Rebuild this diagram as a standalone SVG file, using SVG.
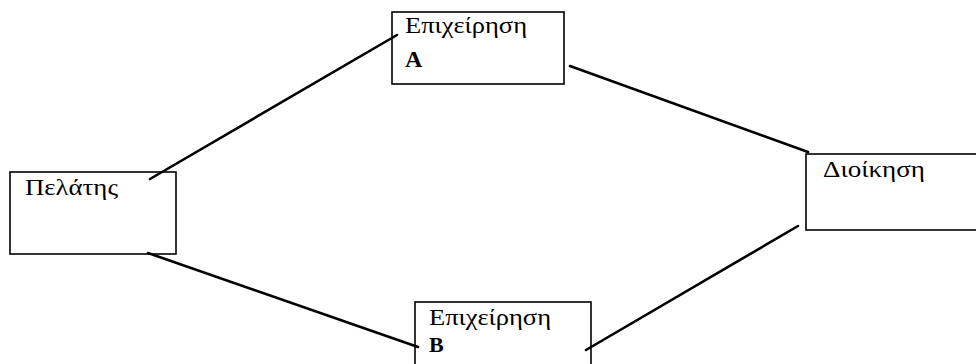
<svg xmlns="http://www.w3.org/2000/svg" width="976" height="364" viewBox="0 0 976 364">
<style>
.box{fill:#fff;stroke:#000;stroke-width:1.6}
.t{font-family:"Liberation Serif","DejaVu Serif",serif;font-size:23px;fill:#000}
.l{font-family:"Liberation Serif","DejaVu Serif",serif;font-weight:bold;fill:#000}
.c{stroke:#000;stroke-width:2.6;fill:none;stroke-linecap:round}
</style>
<rect width="976" height="364" fill="#fff"/>
<g id="pelatis">
<rect class="box" x="10" y="172" width="166" height="82"/>
<text class="t" x="25" y="195" textLength="93" lengthAdjust="spacingAndGlyphs">Πελάτης</text>
</g>
<g id="epixeirisi-a">
<rect class="box" x="392" y="12" width="172" height="72"/>
<text class="t" x="405" y="33" textLength="122" lengthAdjust="spacingAndGlyphs">Επιχείρηση</text>
<text class="l" x="405" y="67" font-size="24">Α</text>
</g>
<g id="dioikisi">
<rect class="box" x="806" y="154" width="180" height="76"/>
<text class="t" x="823" y="177" textLength="102" lengthAdjust="spacingAndGlyphs">Διοίκηση</text>
</g>
<g id="epixeirisi-b">
<rect class="box" x="415" y="302" width="176" height="80"/>
<text class="t" x="429" y="325" textLength="122" lengthAdjust="spacingAndGlyphs">Επιχείρηση</text>
<text class="l" x="429" y="352" font-size="22">Β</text>
</g>
<g id="connectors">
<line class="c" x1="150" y1="179" x2="397" y2="35"/>
<line class="c" x1="570" y1="66" x2="808" y2="152"/>
<line class="c" x1="148" y1="253" x2="418" y2="347"/>
<line class="c" x1="586" y1="350" x2="798" y2="226"/>
</g>
</svg>
